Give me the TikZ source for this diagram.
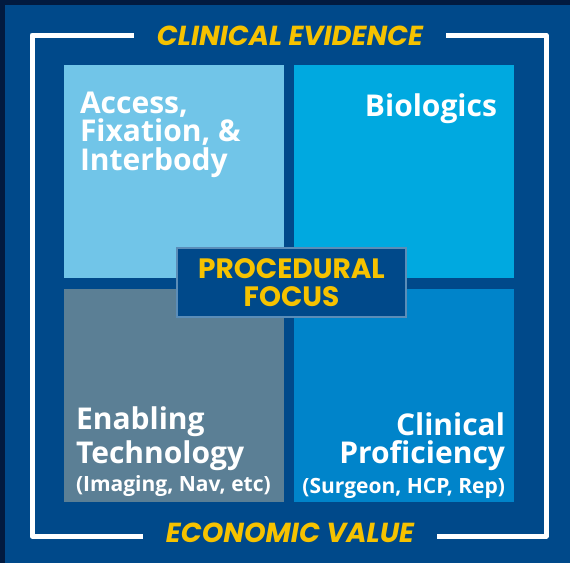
\documentclass[tikz,border=0pt]{standalone}
\usepackage{fontspec}
\setmainfont{Open Sans}
\newfontfamily\headfont{Poppins}
\definecolor{navy}{HTML}{00498A}
\definecolor{deepnavy}{HTML}{021A3F}
\definecolor{skyblue}{HTML}{71C5E8}
\definecolor{brightblue}{HTML}{00A9E0}
\definecolor{slateblue}{HTML}{5B7F95}
\definecolor{midblue}{HTML}{0084CA}
\definecolor{gold}{HTML}{F6C200}
\definecolor{rimblue}{HTML}{5B8DB8}
\newcommand{\smallline}{\fontsize{21}{21}\selectfont}
\begin{document}
\begin{tikzpicture}[x=1pt,y=-1pt,
    quad/.style={fill=#1,draw=none,minimum width=220pt,minimum height=213pt,inner sep=0pt,outer sep=0pt,anchor=north west},
    quadtext/.style={text=white,inner sep=0pt,outer sep=0pt,font=\bfseries\fontsize{30}{28.5}\selectfont},
    header/.style={text=gold,inner xsep=23pt,inner ysep=0pt,outer sep=0pt,font=\headfont\bfseries\itshape\fontsize{27.5}{27.5}\selectfont},
    frame/.style={draw=white,line width=5pt,line join=round}]
	% background and dark edges
	\fill[deepnavy] (0,0) rectangle (570,563);
	\fill[navy] (5,5) rectangle (570,563);
	\useasboundingbox (0,0) rectangle (570,563);
	% four quadrants
	\node[quad=skyblue] (access) at (64,65) {};
	\node[quad=brightblue] (bio) at (294,65) {};
	\node[quad=slateblue] (tech) at (64,289) {};
	\node[quad=midblue] (prof) at (294,289) {};
	% quadrant labels, placed by the baseline of their last line
	\node[quadtext,anchor=base west,align=left] (accesstxt) at (80,170) {Access,\\Fixation, \&\\Interbody};
	\node[quadtext,anchor=base east] (biotxt) at (497,116) {Biologics};
	\node[quadtext,anchor=base west,align=left] (techtxt) at (76,491) {Enabling\\[2.5pt]Technology\\[-0.5pt]{\smallline (Imaging, Nav, etc)}};
	\node[quadtext,anchor=base east,align=right] (proftxt) at (505,493) {Clinical\\[-1pt]Proficiency\\[1.5pt]{\smallline (Surgeon, HCP, Rep)}};
	% centre box
	\node[fill=navy,draw=rimblue,line width=1.5pt,minimum width=229pt,minimum height=69pt,align=center,text=gold,
	  font=\headfont\bfseries\fontsize{28}{28}\selectfont] (focus) at (291.5,282.5) {PROCEDURAL\\FOCUS};
	% bracket frame with the two headers
	\node[header] (evidence) at (290,36) {CLINICAL EVIDENCE};
	\node[header] (econ) at (290,533) {ECONOMIC VALUE};
	\coordinate (ftl) at (32,35);
	\coordinate (ftr) at (546,35);
	\coordinate (fbl) at (32,536);
	\coordinate (fbr) at (546,536);
	\draw[frame] (evidence.west |- ftl) -- (ftl) -- (fbl) -- (econ.west |- fbl);
	\draw[frame] (evidence.east |- ftr) -- (ftr) -- (fbr) -- (econ.east |- fbr);
\end{tikzpicture}
\end{document}
